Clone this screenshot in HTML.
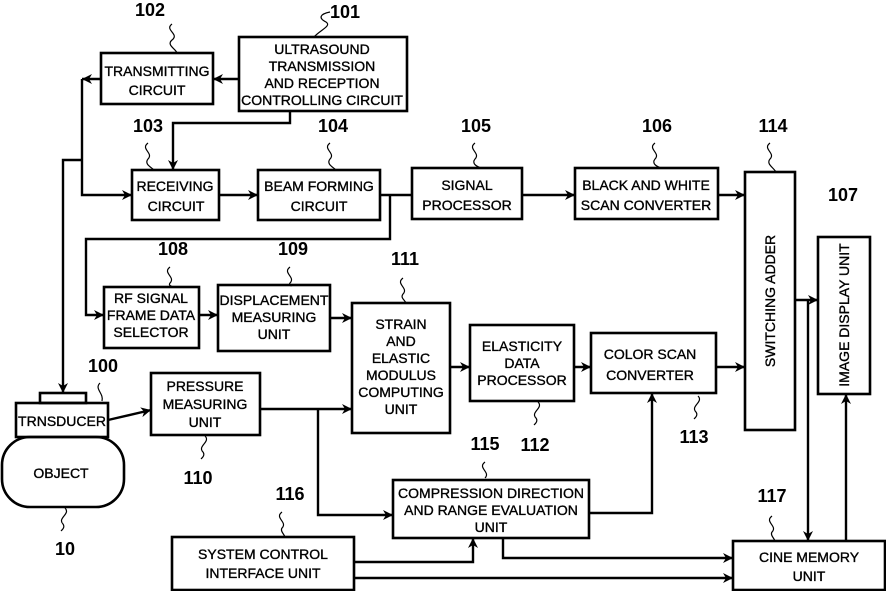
<!DOCTYPE html>
<html><head><meta charset="utf-8"><style>
html,body{margin:0;padding:0;background:#fff;}
svg{display:block;}
text{font-family:"Liberation Sans",Arial,sans-serif;fill:#000;}
.t{font-size:14px;text-anchor:middle;stroke:#000;stroke-width:0.35;}
.n{font-size:18px;font-weight:bold;text-anchor:middle;}
</style></head><body>
<svg width="886" height="591" viewBox="0 0 886 591" xmlns="http://www.w3.org/2000/svg">
<defs><marker id="a" viewBox="0 0 10 10" refX="10" refY="5" markerWidth="10" markerHeight="10" markerUnits="userSpaceOnUse" orient="auto"><path d="M0,0 L10,5 L0,10 L3,5 z" fill="#000"/></marker></defs>
<g fill="none" stroke="#000" stroke-width="2.6">
<rect x="101" y="53" width="112" height="51"/>
<rect x="239" y="37" width="168" height="74"/>
<rect x="132" y="170" width="87" height="50"/>
<rect x="258" y="170" width="122" height="50"/>
<rect x="412" y="168" width="110" height="51"/>
<rect x="575" y="168" width="143" height="51"/>
<rect x="745" y="172" width="50" height="258"/>
<rect x="818" y="237" width="52" height="157"/>
<rect x="104" y="287" width="95" height="61"/>
<rect x="218" y="285" width="112" height="66"/>
<rect x="352" y="303" width="98" height="130"/>
<rect x="470" y="325" width="104" height="76"/>
<rect x="591" y="333" width="125" height="60"/>
<rect x="151" y="373" width="109" height="62"/>
<rect x="16" y="403" width="92" height="34"/>
<rect x="40" y="393" width="46" height="10"/>
<rect x="2" y="437" width="122" height="70" rx="28"/>
<rect x="393" y="480" width="196" height="58"/>
<rect x="172" y="537" width="182" height="53"/>
<rect x="733" y="541" width="152" height="49"/>
</g>
<g fill="none" stroke="#000" stroke-width="2.4">
<path d="M239,79 H213" marker-end="url(#a)"/>
<path d="M290,111 V123 H173 V170" marker-end="url(#a)"/>
<path d="M101,79 H82" marker-end="url(#a)"/>
<path d="M82,79 V195 H132" marker-end="url(#a)"/>
<path d="M82,160 H63 V393" marker-end="url(#a)"/>
<path d="M219,195 H258" marker-end="url(#a)"/>
<path d="M380,195 H412"/>
<path d="M390,195 V239 H86 V315 H104" marker-end="url(#a)"/>
<path d="M522,195 H575" marker-end="url(#a)"/>
<path d="M718,195 H745" marker-end="url(#a)"/>
<path d="M199,315 H218" marker-end="url(#a)"/>
<path d="M330,318 H352" marker-end="url(#a)"/>
<path d="M450,367 H470" marker-end="url(#a)"/>
<path d="M574,367 H591" marker-end="url(#a)"/>
<path d="M716,367 H745" marker-end="url(#a)"/>
<path d="M795,300 H818" marker-end="url(#a)"/>
<path d="M808,300 V541" marker-end="url(#a)"/>
<path d="M846,541 V394" marker-end="url(#a)"/>
<path d="M260,409 H352" marker-end="url(#a)"/>
<path d="M318,409 V515 H393" marker-end="url(#a)"/>
<path d="M108,420 L151,410" marker-end="url(#a)"/>
<path d="M589,513 H652 V393" marker-end="url(#a)"/>
<path d="M503,538 V558 H733" marker-end="url(#a)"/>
<path d="M354,562 H473 V538" marker-end="url(#a)"/>
<path d="M354,578 H733" marker-end="url(#a)"/>
</g>
<g fill="none" stroke="#000" stroke-width="1.2">
<path d="M172,24 c-8,6 8,10 0,16 c-6,5 4,9 5,13"/>
<path d="M330,12 c-10,2 -12,6 -4,10 c6,4 -6,8 -12,15"/>
<path d="M148,143 c-8,6 6,10 0,16 c-4,5 3,8 6,11"/>
<path d="M330,143 c-8,6 6,10 0,16 c-4,5 3,8 6,11"/>
<path d="M475,143 c-8,6 6,10 0,16 c-4,5 3,8 6,9"/>
<path d="M655,143 c-8,6 6,10 0,16 c-4,5 3,8 6,9"/>
<path d="M770,143 c-8,6 6,10 0,16 c-4,5 3,8 6,13"/>
<path d="M170,267 c-8,6 6,10 0,16 c-2,3 2,3 3,4"/>
<path d="M290,267 c-8,6 6,10 0,16 c-2,3 2,3 3,2"/>
<path d="M403,278 c-8,6 6,10 0,16 c-3,4 2,6 3,9"/>
<path d="M100,383 c-6,6 4,10 2,18"/>
<path d="M205,436 c6,6 -8,10 -2,16 c2,3 0,5 -2,7"/>
<path d="M538,402 c6,6 -8,10 -2,16 c2,3 0,5 -2,7"/>
<path d="M698,396 c6,6 -8,10 -2,16 c2,3 0,5 -2,7"/>
<path d="M485,462 c-8,6 6,10 0,16"/>
<path d="M65,508 c6,6 -8,10 -2,16 c2,3 0,5 -2,7"/>
<path d="M282,512 c-8,6 6,10 0,16 c-2,3 2,6 3,9"/>
<path d="M772,516 c-8,6 6,10 0,16 c-2,3 2,6 3,9"/>
</g>
<g class="n">
<text x="150" y="16">102</text><text x="345" y="18">101</text>
<text x="148" y="132">103</text><text x="333" y="132">104</text>
<text x="476" y="132">105</text><text x="657" y="132">106</text>
<text x="773" y="132">114</text><text x="843" y="201">107</text>
<text x="173" y="255">108</text><text x="293" y="255">109</text>
<text x="405" y="265">111</text><text x="103" y="372">100</text>
<text x="198" y="484">110</text><text x="485" y="450">115</text>
<text x="535" y="451">112</text><text x="694" y="443">113</text>
<text x="290" y="500">116</text><text x="772" y="502">117</text>
<text x="65" y="555">10</text>
</g>
<g class="t">
<text x="157" y="76">TRANSMITTING</text><text x="157" y="95">CIRCUIT</text>
<text x="322" y="54">ULTRASOUND</text><text x="322" y="71">TRANSMISSION</text><text x="322" y="88">AND RECEPTION</text><text x="322" y="105">CONTROLLING CIRCUIT</text>
<text x="175" y="191">RECEIVING</text><text x="176" y="211">CIRCUIT</text>
<text x="319" y="191">BEAM FORMING</text><text x="319" y="211">CIRCUIT</text>
<text x="467" y="190">SIGNAL</text><text x="467" y="210">PROCESSOR</text>
<text x="646" y="190">BLACK AND WHITE</text><text x="646" y="210">SCAN CONVERTER</text>
<text x="151" y="303">RF SIGNAL</text><text x="151" y="320">FRAME DATA</text><text x="151" y="337">SELECTOR</text>
<text x="274" y="305">DISPLACEMENT</text><text x="274" y="322">MEASURING</text><text x="274" y="339">UNIT</text>
<text x="401" y="329">STRAIN</text><text x="401" y="346">AND</text><text x="401" y="363">ELASTIC</text><text x="401" y="380">MODULUS</text><text x="401" y="397">COMPUTING</text><text x="401" y="414">UNIT</text>
<text x="522" y="351">ELASTICITY</text><text x="522" y="368">DATA</text><text x="522" y="385">PROCESSOR</text>
<text x="650" y="359">COLOR SCAN</text><text x="650" y="380">CONVERTER</text>
<text x="205" y="391">PRESSURE</text><text x="205" y="409">MEASURING</text><text x="205" y="427">UNIT</text>
<text x="62" y="426">TRNSDUCER</text>
<text x="61" y="478">OBJECT</text>
<text x="491" y="498">COMPRESSION DIRECTION</text><text x="491" y="515">AND RANGE EVALUATION</text><text x="491" y="532">UNIT</text>
<text x="263" y="559">SYSTEM CONTROL</text><text x="263" y="578">INTERFACE UNIT</text>
<text x="809" y="562">CINE MEMORY</text><text x="809" y="581">UNIT</text>
<text transform="translate(775,301) rotate(-90)">SWITCHING ADDER</text>
<text transform="translate(849,315) rotate(-90)">IMAGE DISPLAY UNIT</text>
</g>
</svg>
</body></html>
